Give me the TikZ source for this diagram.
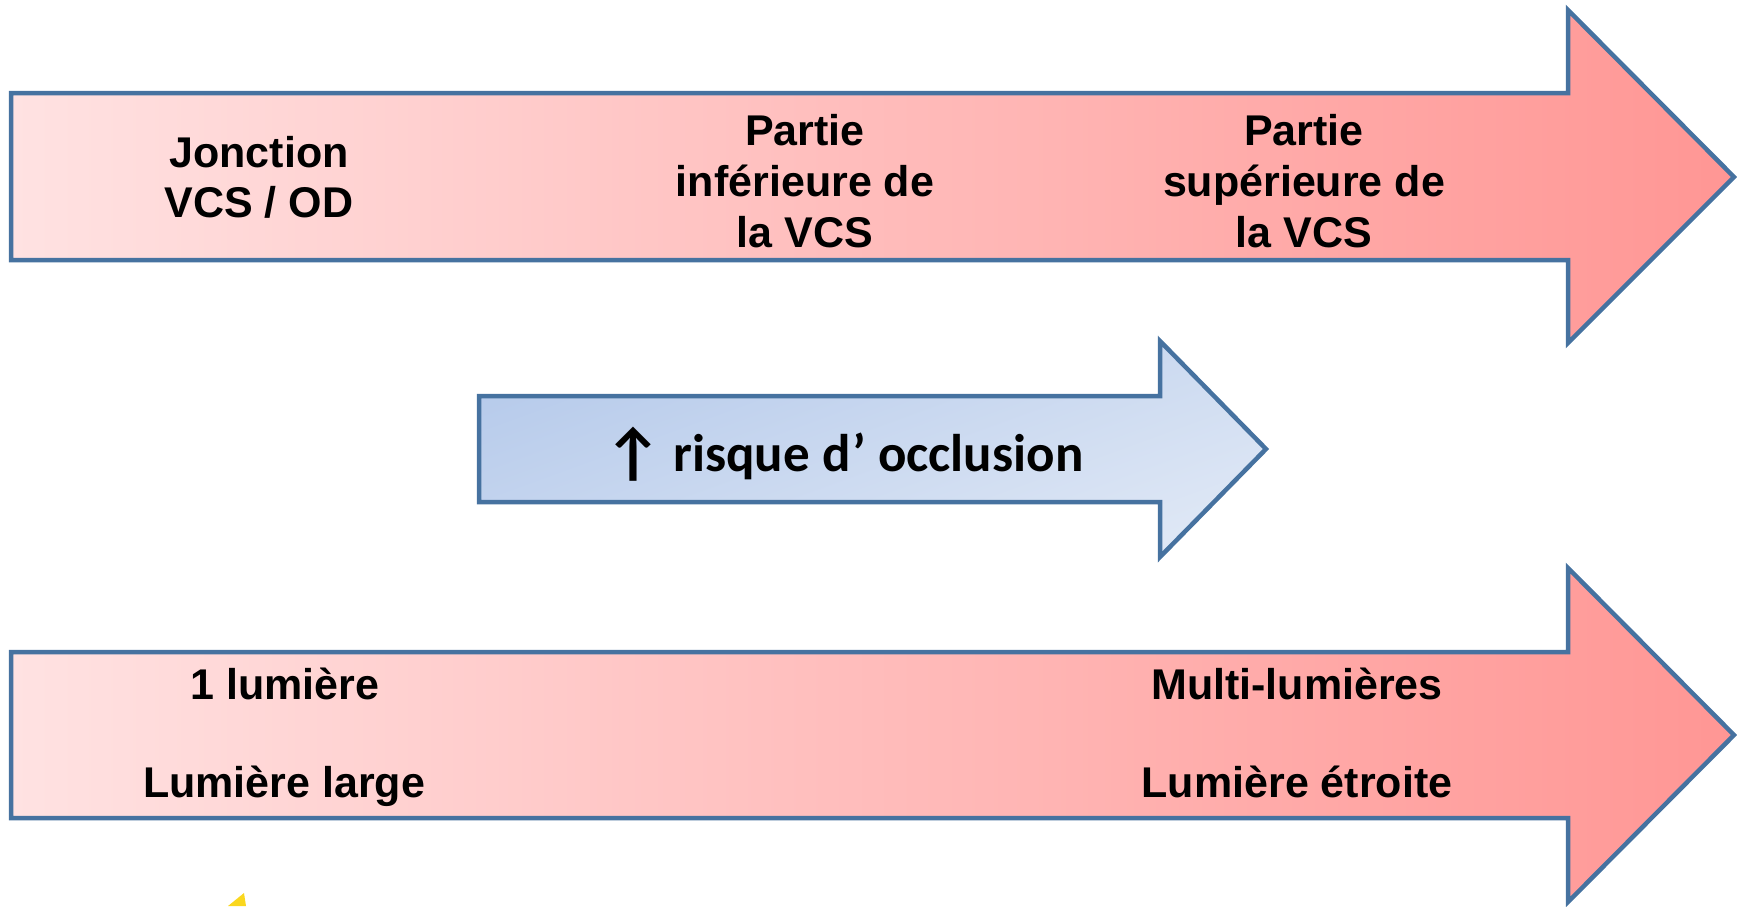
\documentclass[tikz,border=0pt]{standalone}
\usepackage{fontspec}
\setmainfont{Liberation Sans}
\newfontfamily\calib{Carlito}
\definecolor{edgeblue}{RGB}{70,114,160}
\definecolor{pinkL}{RGB}{255,226,226}
\definecolor{pinkR}{RGB}{255,150,148}
\definecolor{blueA}{RGB}{183,203,235}
\definecolor{blueB}{RGB}{222,231,245}
\definecolor{yel}{RGB}{250,215,30}
\newcommand{\cstack}[2]{\vtop{\baselineskip=#1pt\halign{\hfil##\hfil\cr#2\cr}}}
\tikzset{
  arrowshape/.style={draw=edgeblue, line width=4.5pt, line join=miter},
  redfill/.style={left color=pinkL, right color=pinkR},
  bluefill/.style={shading=axis, top color=blueA, bottom color=blueB, shading angle=20},
  redtxt/.style={font=\fontsize{43}{48}\selectfont\bfseries, text=black, inner sep=0pt, anchor=base},
  bluetxt/.style={font=\fontsize{53}{60}\selectfont\calib\bfseries, text=black, inner sep=0pt, anchor=base}
}
\begin{document}
\begin{tikzpicture}[x=1pt,y=-1pt]
\useasboundingbox (0,0) rectangle (1737,906);
% top arrow
\path[arrowshape, redfill] (11,93) -- (1568,93) -- (1568,10) -- (1734,177) -- (1568,343) -- (1568,260) -- (11,260) -- cycle;
% middle arrow
\path[arrowshape, bluefill] (479,396) -- (1160,396) -- (1160,341) -- (1266,449) -- (1160,557) -- (1160,502) -- (479,502) -- cycle;
% bottom arrow
\path[arrowshape, redfill] (11,652) -- (1568,652) -- (1568,568) -- (1734,735) -- (1568,902) -- (1568,818) -- (11,818) -- cycle;
% small yellow fragment
\fill[yel] (228,906) -- (244,893) -- (246,906) -- cycle;
% texts
\node[redtxt] (jonc) at (259,167) {\cstack{50}{Jonction\cr VCS / OD}};
\node[redtxt] (inf) at (805,145) {\cstack{51}{Partie\cr inférieure de\cr la VCS}};
\node[redtxt] (sup) at (1304,145) {\cstack{51}{Partie\cr supérieure de\cr la VCS}};
\node[bluetxt] (risk) at (844,471) {{\fontsize{64}{60}\selectfont\raisebox{-3pt}{↑}}\kern11pt risque d\kern2pt’ occlusion};
\node[redtxt] (one) at (285,699) {1 lumière};
\node[redtxt] (large) at (284,797) {Lumière large};
\node[redtxt] (multi) at (1297,699) {Multi-lumières};
\node[redtxt] (etroite) at (1297,797) {Lumière étroite};
\end{tikzpicture}
\end{document}
